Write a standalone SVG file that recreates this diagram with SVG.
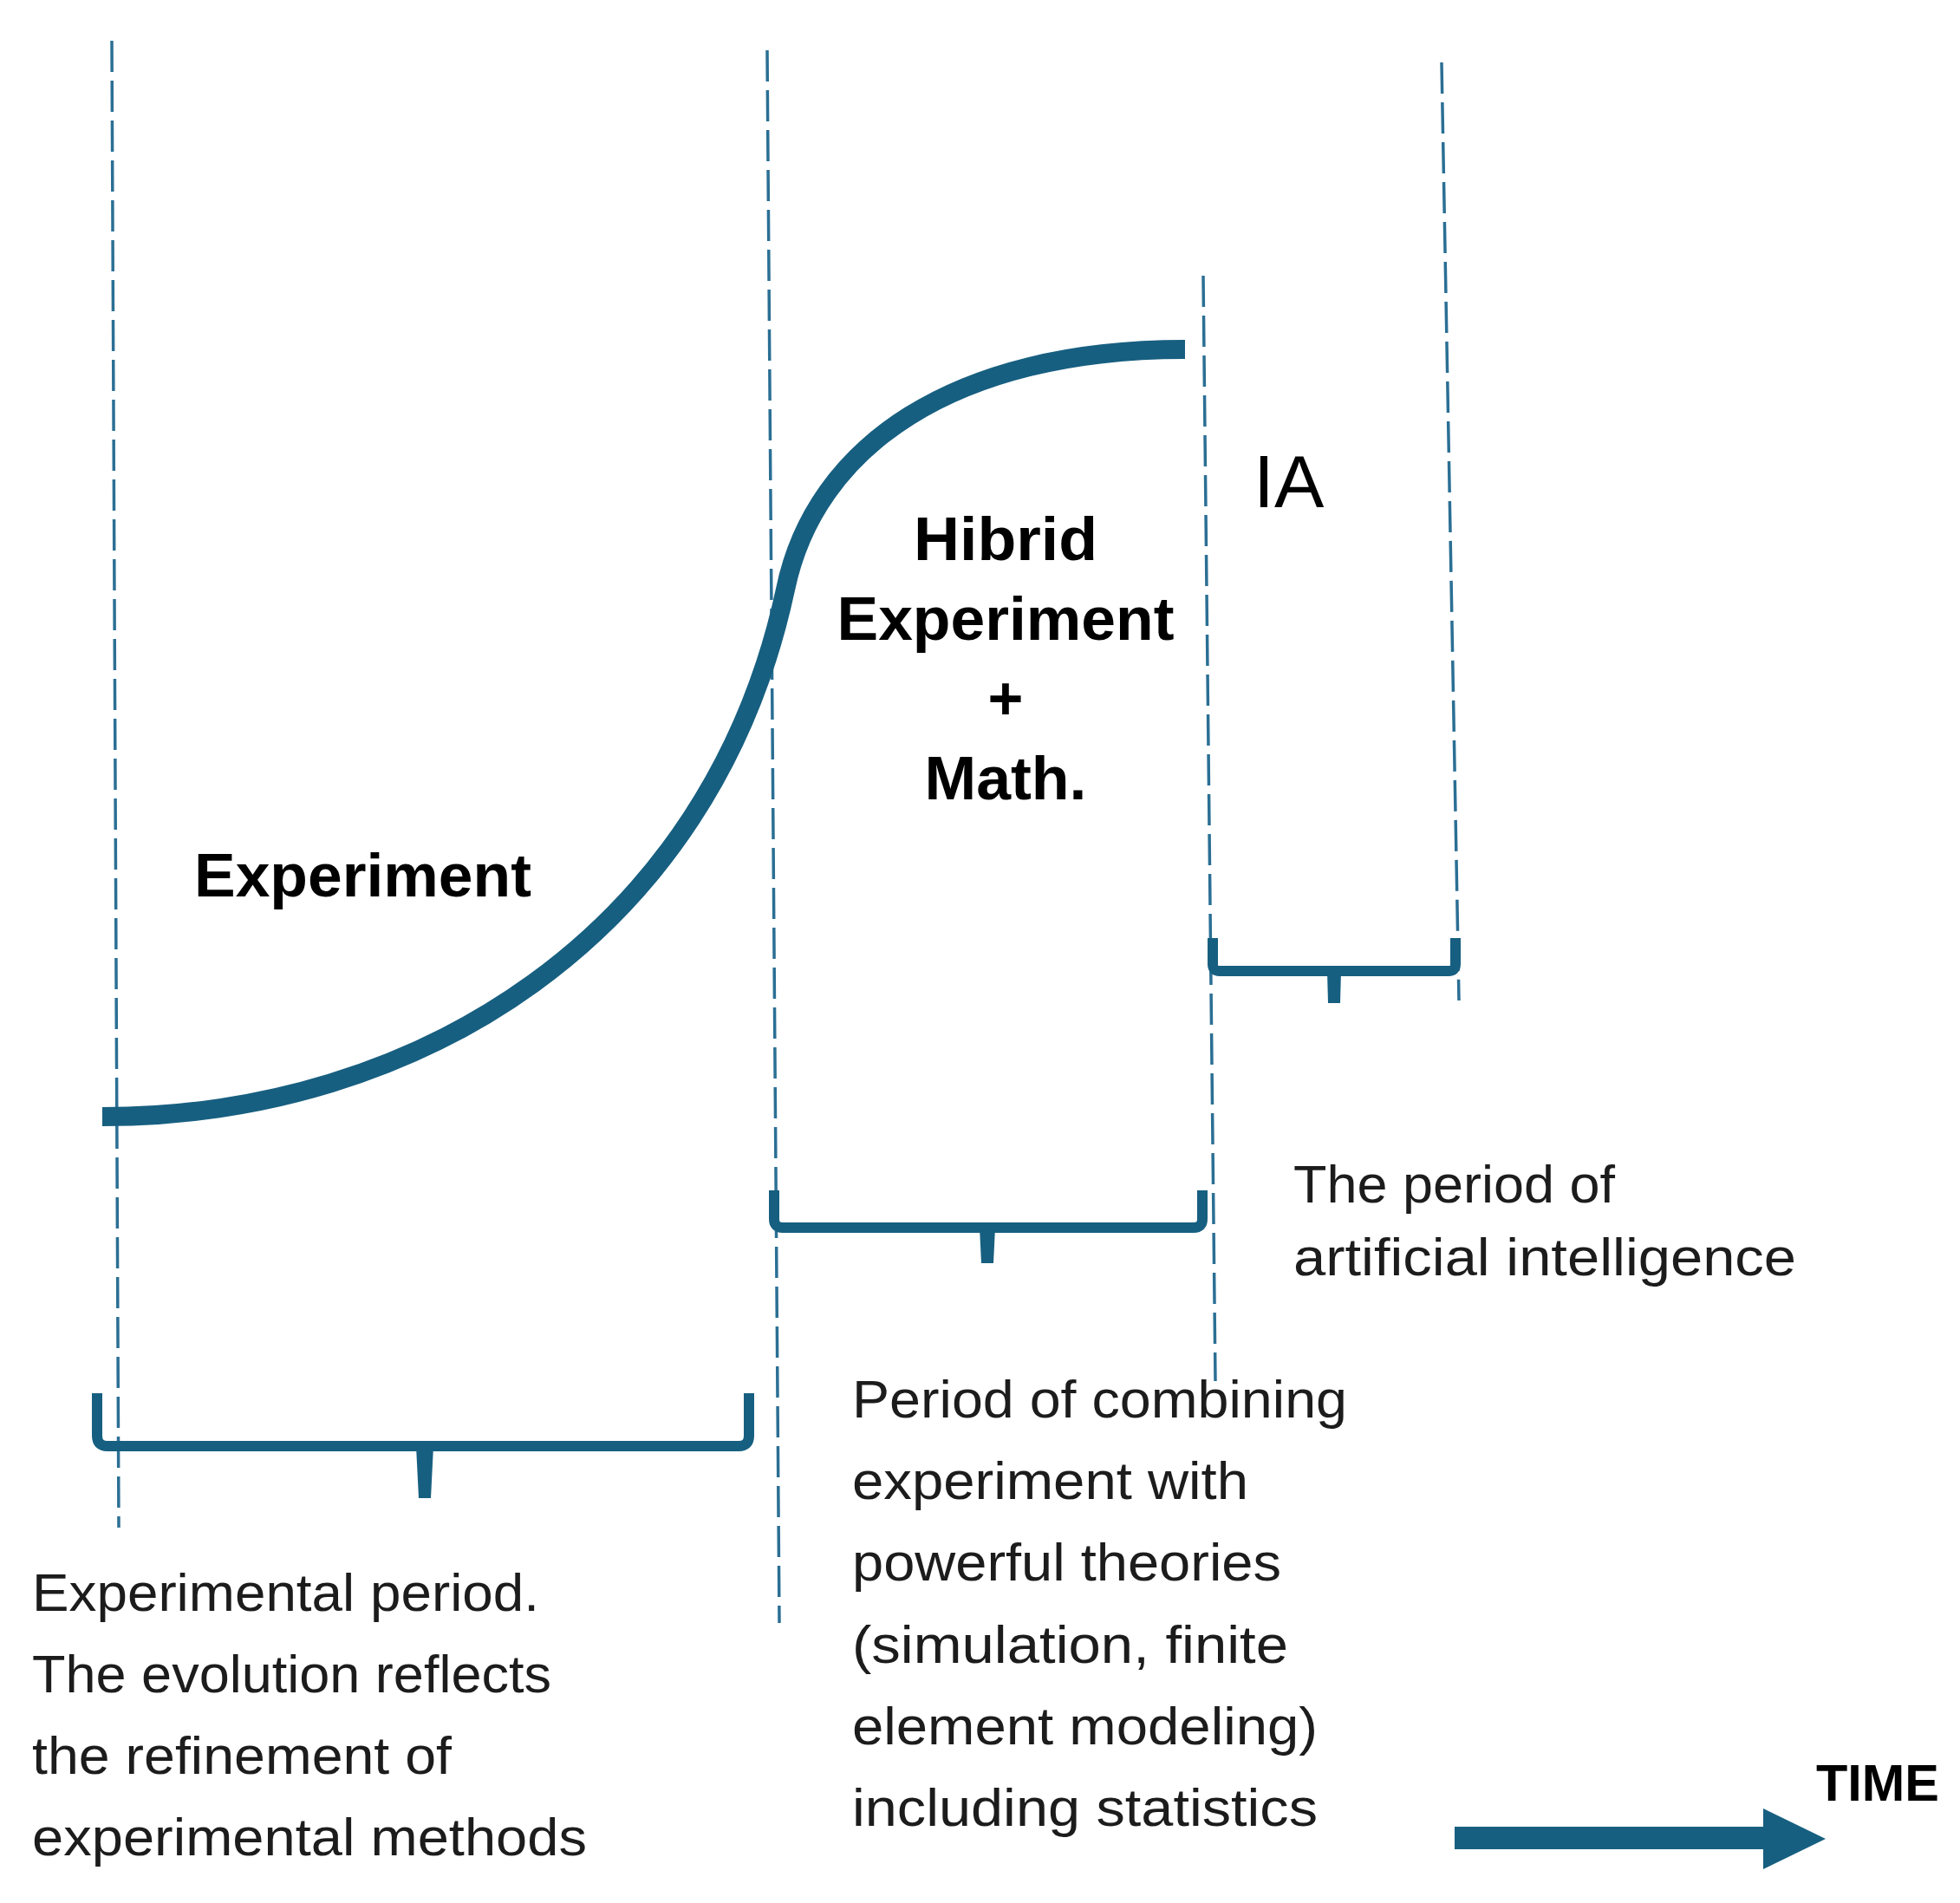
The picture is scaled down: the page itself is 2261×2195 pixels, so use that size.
<svg xmlns="http://www.w3.org/2000/svg" width="2261" height="2195" viewBox="0 0 2261 2195">
<style>
.dash{stroke:#2b6f94;stroke-width:3.5;stroke-dasharray:36 10;fill:none}
.curve{stroke:#175f80;stroke-width:22;fill:none;stroke-linecap:butt}
.brace{stroke:#175f80;stroke-width:12;fill:none;stroke-linejoin:round}
.tick{fill:#175f80}
.bold{font-family:"Liberation Sans",Arial,sans-serif;font-weight:bold;fill:#000}
.body{font-family:"Liberation Sans",Arial,sans-serif;font-size:62px;fill:#1c1c1c}
</style>
<rect width="2261" height="2195" fill="#fff"/>
<g id="connectors">
<line class="dash" x1="129" y1="47" x2="137" y2="1762"/>
<line class="dash" x1="885" y1="58" x2="899" y2="1872"/>
<line class="dash" x1="1388" y1="318" x2="1402" y2="1593"/>
<line class="dash" x1="1663" y1="72" x2="1683" y2="1154"/>
<path id="curve" class="curve" d="M118,1288 C480,1288 820,1080 906,680 C940,515 1100,403 1367,403"/>
<g id="arrow">
<rect x="1678" y="2107" width="358" height="26" fill="#175f80"/>
<polygon points="2034,2086 2106,2121 2034,2156" fill="#175f80"/>
</g>
</g>
<g id="brace-experimental">
<path class="brace" d="M112,1607 V1656 Q112,1668 124,1668 H852 Q864,1668 864,1656 V1607"/>
<polygon class="tick" points="480,1668 500,1668 497,1728 483,1728"/>
</g>
<g id="brace-hybrid">
<path class="brace" d="M893,1373 V1406 Q893,1416 903,1416 H1377 Q1387,1416 1387,1406 V1373"/>
<polygon class="tick" points="1130,1416 1148,1416 1146,1457 1132,1457"/>
</g>
<g id="brace-ai">
<path class="brace" d="M1399,1082 V1112 Q1399,1120 1407,1120 H1671 Q1679,1120 1679,1112 V1082"/>
<polygon class="tick" points="1531,1120 1547,1120 1546,1157 1532,1157"/>
</g>
<g id="node-experiment">
<text class="bold" x="224" y="1034" font-size="70" textLength="389" lengthAdjust="spacingAndGlyphs">Experiment</text>
</g>
<g id="node-hybrid">
<text class="bold" x="1160" y="646" font-size="70" text-anchor="middle" textLength="212" lengthAdjust="spacingAndGlyphs">Hibrid</text>
<text class="bold" x="1160" y="738" font-size="70" text-anchor="middle" textLength="389" lengthAdjust="spacingAndGlyphs">Experiment</text>
<text class="bold" x="1160" y="830" font-size="70" text-anchor="middle">+</text>
<text class="bold" x="1160" y="922" font-size="70" text-anchor="middle" textLength="187" lengthAdjust="spacingAndGlyphs">Math.</text>
</g>
<g id="node-ia">
<text x="1446" y="585" font-family="Liberation Sans, Arial, sans-serif" font-size="86" fill="#000">IA</text>
</g>
<g id="label-experimental">
<text class="body" x="37" y="1858" textLength="585" lengthAdjust="spacingAndGlyphs">Experimental period.</text>
<text class="body" x="37" y="1952" textLength="599" lengthAdjust="spacingAndGlyphs">The evolution reflects</text>
<text class="body" x="37" y="2046" textLength="484" lengthAdjust="spacingAndGlyphs">the refinement of</text>
<text class="body" x="37" y="2140" textLength="640" lengthAdjust="spacingAndGlyphs">experimental methods</text>
</g>
<g id="label-hybrid">
<text class="body" x="983" y="1635" textLength="571" lengthAdjust="spacingAndGlyphs">Period of combining</text>
<text class="body" x="983" y="1729" textLength="457" lengthAdjust="spacingAndGlyphs">experiment with</text>
<text class="body" x="983" y="1823" textLength="495" lengthAdjust="spacingAndGlyphs">powerful theories</text>
<text class="body" x="983" y="1918" textLength="503" lengthAdjust="spacingAndGlyphs">(simulation, finite</text>
<text class="body" x="983" y="2012" textLength="537" lengthAdjust="spacingAndGlyphs">element modeling)</text>
<text class="body" x="983" y="2106" textLength="537" lengthAdjust="spacingAndGlyphs">including statistics</text>
</g>
<g id="label-ai">
<text class="body" x="1492" y="1387" textLength="371" lengthAdjust="spacingAndGlyphs">The period of</text>
<text class="body" x="1492" y="1471" textLength="580" lengthAdjust="spacingAndGlyphs">artificial intelligence</text>
</g>
<g id="label-time">
<text class="bold" x="2095" y="2077" font-size="60" textLength="142" lengthAdjust="spacingAndGlyphs">TIME</text>
</g>
</svg>
